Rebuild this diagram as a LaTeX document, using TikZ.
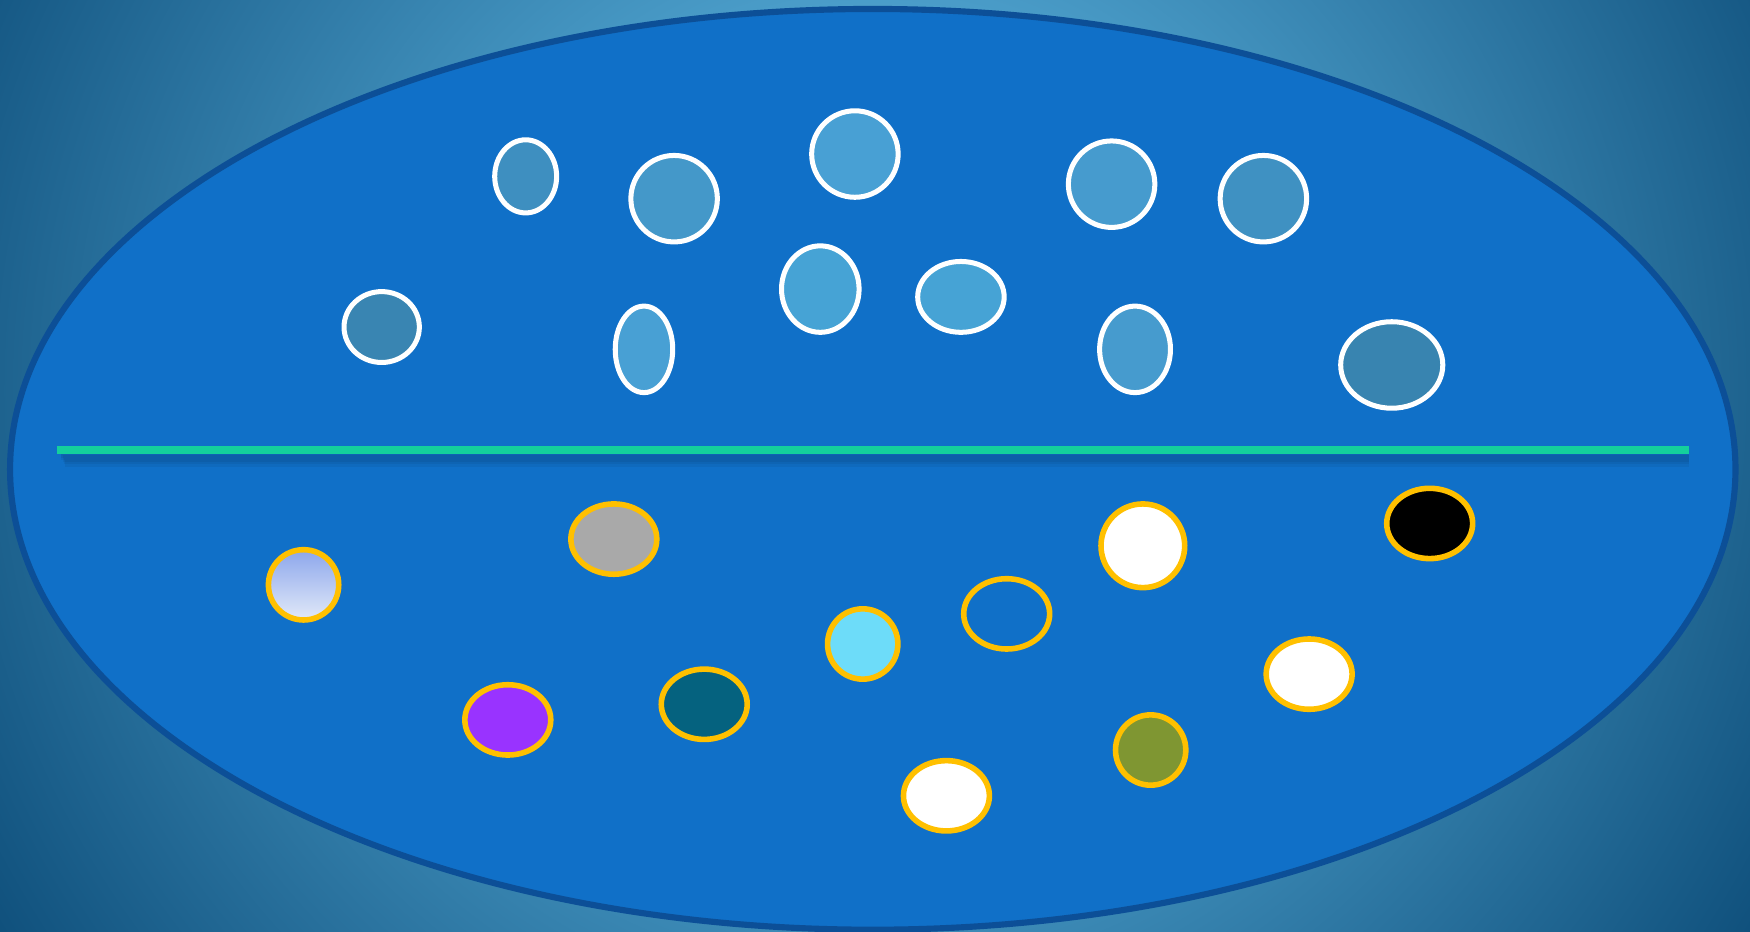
\documentclass[tikz,border=0pt]{standalone}
\usepackage{xcolor}
\usepackage{tikz}
\usetikzlibrary{calc,shapes.geometric}
\definecolor{bginner}{HTML}{6ECBF7}
\definecolor{bgouter}{HTML}{0D4D79}
\definecolor{cellblue}{HTML}{1070C8}
\definecolor{cellrim}{HTML}{0C4F97}
\definecolor{membrane}{HTML}{14D09C}
\definecolor{ringgold}{HTML}{FFC000}
\definecolor{bubdeep}{HTML}{3884B0}
\definecolor{bubmid}{HTML}{3E8FC0}
\definecolor{bublight}{HTML}{48A0D4}
\definecolor{lavtop}{HTML}{8CA6EC}
\definecolor{lavbot}{HTML}{E2EAF8}
\definecolor{dotgray}{HTML}{A9A9A9}
\definecolor{dotsky}{HTML}{6DDCF9}
\definecolor{dotpurple}{HTML}{9933FF}
\definecolor{dotteal}{HTML}{05627F}
\definecolor{dotolive}{HTML}{7F9632}

\begin{document}
\begin{tikzpicture}[
  x=0.1mm,y=-0.1mm,
  upper/.style={ellipse,draw=white,line width=0.45mm,inner sep=0pt},
  lower/.style={ellipse,draw=ringgold,line width=0.5mm,inner sep=0pt},
  round/.style={minimum width=7.75mm,minimum height=7.75mm},
  flat/.style={minimum width=7.7mm,minimum height=6.3mm},
  small/.style={minimum width=6.3mm,minimum height=6.3mm},
  split/.style={line width=0.7mm,membrane},
  haze/.style={line width=0.6mm,black,opacity=0.05}
]
  \useasboundingbox (0,0) rectangle (1568,835);
  \begin{scope}
    \clip (0,0) rectangle (1568,835);
    \shade[inner color=bginner,outer color=bgouter] (784,350) circle (950);
  \end{scope}

  \node[ellipse,draw=cellrim,fill=cellblue,line width=0.55mm,inner sep=0pt,
        minimum width=154.6mm,minimum height=82.5mm] (cell) at (782,420.5) {};

  % upper half
  \node[upper,fill=bubmid,minimum width=5.55mm,minimum height=6.55mm] (up1) at (471,158) {};
  \node[upper,round,fill=bublight!95!black] (up2) at (604,178) {};
  \node[upper,round,fill=bublight] (up3) at (766,138) {};
  \node[upper,round,fill=bublight!97!black] (up4) at (996,165) {};
  \node[upper,round,fill=bubmid!90!bublight] (up5) at (1132,178) {};
  \node[upper,fill=bubdeep!90!bubmid,minimum width=6.75mm,minimum height=6.35mm] (up6) at (342,293) {};
  \node[upper,fill=bublight,minimum width=5.15mm,minimum height=7.75mm] (up7) at (577,313) {};
  \node[upper,fill=bublight!97!cyan,minimum width=6.95mm,minimum height=7.75mm] (up8) at (735,259) {};
  \node[upper,fill=bublight!97!cyan,minimum width=7.75mm,minimum height=6.35mm] (up9) at (861,266) {};
  \node[upper,fill=bublight!97!black,minimum width=6.35mm,minimum height=7.75mm] (up10) at (1017,313) {};
  \node[upper,fill=bubdeep,minimum width=9.15mm,minimum height=7.75mm] (up11) at (1247,327) {};

  % dividing line
  \coordinate (mL) at (51,403);
  \coordinate (mR) at (1513,403);
  \draw[haze] ($(mL)+(4,4)$) -- ($(mR)+(0,4)$);
  \draw[haze] ($(mL)+(4,6)$) -- ($(mR)+(0,6)$);
  \draw[haze] ($(mL)+(5,8)$) -- ($(mR)+(0,8)$);
  \draw[haze] ($(mL)+(6,10)$) -- ($(mR)+(0,10)$);
  \draw[haze] ($(mL)+(7,12)$) -- ($(mR)+(0,12)$);
  \draw[split] (mL) -- (mR);

  % lower half
  \node[lower,small,top color=lavtop,bottom color=lavbot] (lo1) at (272,524) {};
  \node[lower,flat,fill=dotgray] (lo2) at (550,483) {};
  \node[lower,fill=white,minimum width=7.5mm,minimum height=7.5mm] (lo3) at (1024,489) {};
  \node[lower,flat,fill=black] (lo4) at (1281,469) {};
  \node[lower,small,fill=dotsky] (lo5) at (773,577) {};
  \node[lower,flat] (lo6) at (902,550) {};
  \node[lower,flat,fill=dotpurple] (lo7) at (455,645) {};
  \node[lower,flat,fill=dotteal] (lo8) at (631,631) {};
  \node[lower,flat,fill=white] (lo9) at (1173,604) {};
  \node[lower,small,fill=dotolive] (lo10) at (1031,672) {};
  \node[lower,flat,fill=white] (lo11) at (848,713) {};
\end{tikzpicture}
\end{document}
